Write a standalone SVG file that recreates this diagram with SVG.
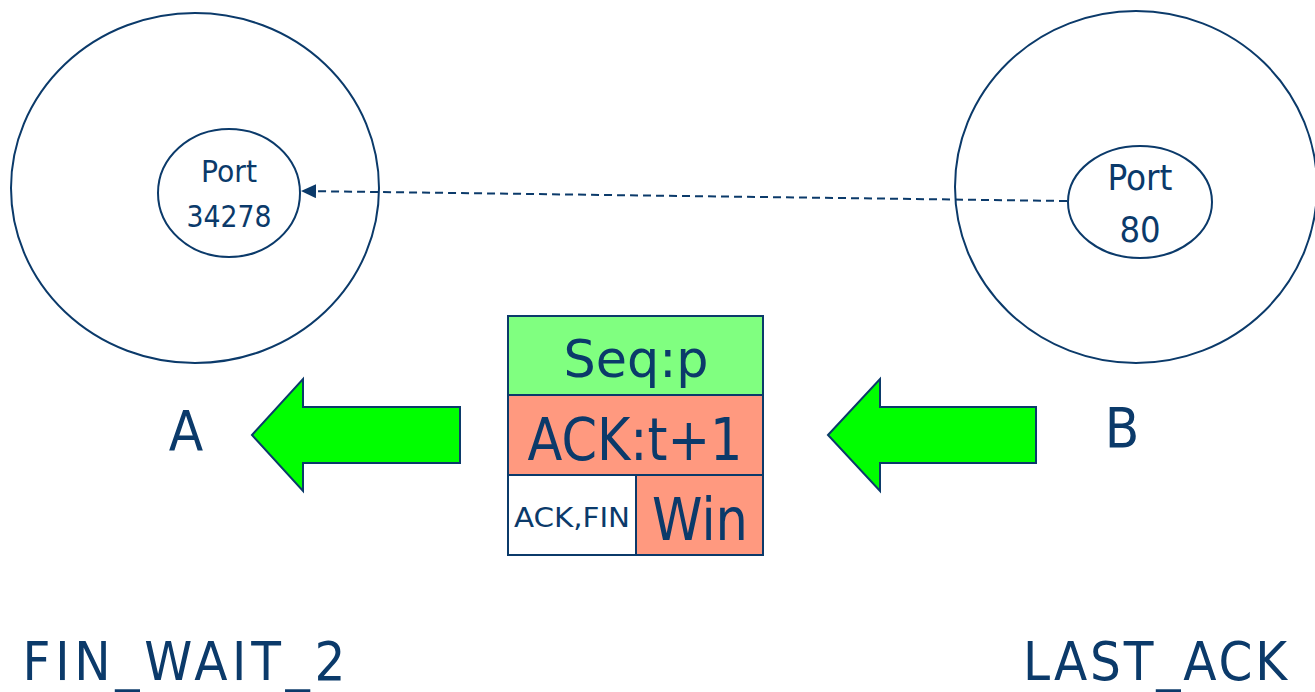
<svg xmlns="http://www.w3.org/2000/svg" width="1315" height="692" viewBox="0 0 1315 692">
<defs>
<style>
.ln{fill:none;stroke:#0b3a6a;stroke-width:2}
.t{font-family:"DejaVu Sans Condensed","DejaVu Sans","Liberation Sans",sans-serif;font-stretch:condensed;fill:#0b3a6a;text-anchor:middle}
.w{font-family:"DejaVu Sans","Liberation Sans",sans-serif;font-stretch:normal}
.arr{fill:#00ff00;stroke:#0b3a6a;stroke-width:2;stroke-linejoin:miter}
.cell{stroke:#0b3a6a;stroke-width:2}
</style>
<marker id="ah" viewBox="0 0 15 14" refX="15" refY="7" markerWidth="15" markerHeight="14" markerUnits="userSpaceOnUse" orient="auto">
<path d="M0,0 L15,7 L0,14 z" fill="#0b3a6a"/>
</marker>
</defs>
<rect width="1315" height="692" fill="#fff"/>
<g id="hostA">
<ellipse class="ln" cx="195" cy="188" rx="184" ry="175"/>
<text class="t" x="186" y="450" font-size="56">A</text>
<text class="t" x="184" y="680" font-size="54" textLength="323">FIN_WAIT_2</text>
</g>
<g id="hostB">
<ellipse class="ln" cx="1136" cy="187" rx="181" ry="176"/>
<text class="t" x="1122" y="447" font-size="56">B</text>
<text class="t" x="1155" y="680" font-size="54" textLength="264">LAST_ACK</text>
</g>
<g id="portA">
<ellipse class="ln" fill="#fff" cx="229" cy="193" rx="71" ry="64"/>
<text class="t" x="229" y="182" font-size="31" textLength="56" lengthAdjust="spacingAndGlyphs">Port</text>
<text class="t" x="229" y="227" font-size="31" textLength="85" lengthAdjust="spacingAndGlyphs">34278</text>
</g>
<g id="portB">
<ellipse class="ln" fill="#fff" cx="1140" cy="202" rx="72" ry="56"/>
<text class="t" x="1140" y="190" font-size="36" textLength="65" lengthAdjust="spacingAndGlyphs">Port</text>
<text class="t" x="1140" y="242" font-size="36">80</text>
</g>
<g id="connectors">
<line class="ln" x1="1067" y1="201" x2="301" y2="191" stroke-dasharray="8,5" stroke-width="2" marker-end="url(#ah)"/>
</g>
<g id="arrowLeft">
<path class="arr" d="M252,435 L303,379 L303,407 L460,407 L460,463 L303,463 L303,491 Z"/>
</g>
<g id="arrowRight">
<path class="arr" d="M828,435 L880,379 L880,407 L1036,407 L1036,463 L880,463 L880,491 Z"/>
</g>
<g id="segment">
<rect class="cell" x="508" y="316" width="255" height="79" fill="#80ff80"/>
<rect class="cell" x="508" y="395" width="255" height="80" fill="#ff997f"/>
<rect class="cell" x="508" y="475" width="128" height="80" fill="#fff"/>
<rect class="cell" x="636" y="475" width="127" height="80" fill="#ff997f"/>
<text class="t w" x="636" y="377" font-size="52" textLength="145" lengthAdjust="spacingAndGlyphs">Seq:p</text>
<text class="t w" x="635" y="460" font-size="58" textLength="215" lengthAdjust="spacingAndGlyphs">ACK:t+1</text>
<text class="t" x="572" y="527" font-size="27" textLength="116" lengthAdjust="spacingAndGlyphs">ACK,FIN</text>
<text class="t w" x="700" y="540" font-size="58" textLength="96" lengthAdjust="spacingAndGlyphs">Win</text>
</g>
</svg>
